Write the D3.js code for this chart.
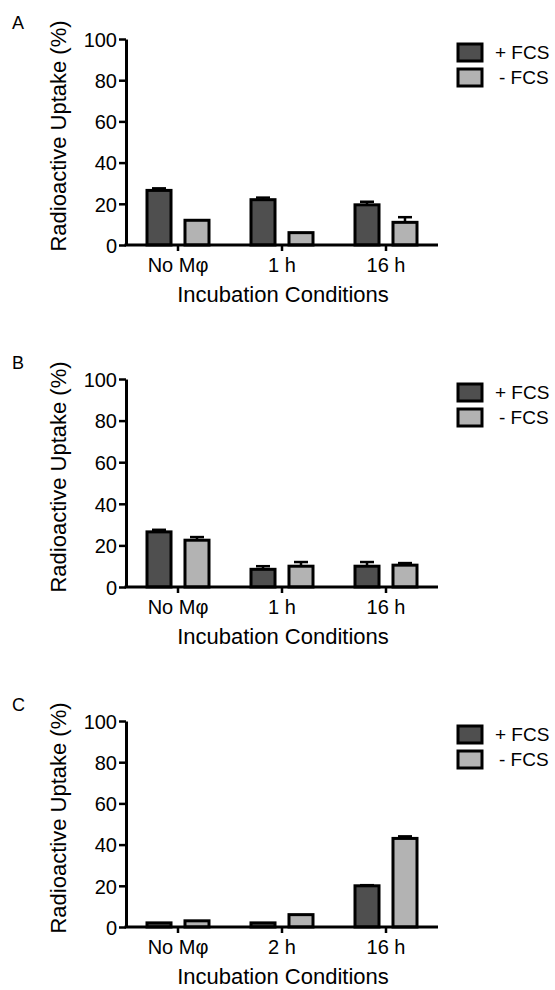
<!DOCTYPE html>
<html>
<head>
<meta charset="utf-8">
<script src="https://cdn.jsdelivr.net/npm/d3@7"></script>
<style>
  body { margin: 0; background: #fff; }
  svg text { font-family: "Liberation Sans", Arial, Helvetica, sans-serif; fill: #000; }
</style>
</head>
<body>
<div id="chart"></div>
<script>
// panel data
const panelLabels = ["A", "B", "C"];
const panelCategories = [
    ["No Mφ", "1 h", "16 h"],
    ["No Mφ", "1 h", "16 h"],
    ["No Mφ", "2 h", "16 h"]
];
const seriesNames = ["+ FCS", "- FCS"];
const plusFCS = [
    [26.5, 22, 19.5],
    [26.5, 8.5, 10],
    [2, 2, 20]
];
const plusFCSErr = [
    [1, 1, 1.5],
    [1, 1.5, 2],
    [0, 0, 0.3]
];
const minusFCS = [
    [12, 6, 11],
    [22.5, 10, 10.5],
    [3, 6, 43]
];
const minusFCSErr = [
    [0, 0, 2.5],
    [1.5, 2, 1],
    [0, 0, 1]
];
const yTicks = [0, 20, 40, 60, 80, 100];

const width = 555;
const height = 990;
const colors = ["#4f4f4f", "#b3b3b3"];

const svg = d3.select("#chart")
    .append("svg")
    .attr("width", width)
    .attr("height", height);

// layout: plot tops / bottoms per panel
const plotTops = [39, 379, 721];
const plotBottoms = [245, 587, 927];
const left = 126;
const right = 438;

panelLabels.forEach((label, p) => {
    const g = svg.append("g");
    const top = plotTops[p];
    const bottom = plotBottoms[p];

    const y = d3.scaleLinear().domain([0, 100]).range([bottom, top]);
    const x = d3.scaleBand().domain(panelCategories[p]).range([left, right]).padding(0);
    const xs = d3.scaleBand().domain(seriesNames).range([-31, 31]).paddingInner(0.368).paddingOuter(0);

    // panel letter
    g.append("text")
        .attr("x", 12)
        .attr("y", top - 10)
        .style("font-size", "18px")
        .text(label);

    const rows = [];
    panelCategories[p].forEach((c, i) => {
        rows.push({ cat: c, series: seriesNames[0], value: plusFCS[p][i], err: plusFCSErr[p][i], color: colors[0] });
        rows.push({ cat: c, series: seriesNames[1], value: minusFCS[p][i], err: minusFCSErr[p][i], color: colors[1] });
    });

    // error bars (drawn first so bar outline sits over the stem)
    const errRows = rows.filter(d => d.err > 0);
    const cx = d => x(d.cat) + x.bandwidth() / 2 + xs(d.series) + xs.bandwidth() / 2;

    g.selectAll("line.err")
        .data(errRows)
        .enter()
        .append("line")
        .attr("x1", cx)
        .attr("x2", cx)
        .attr("y1", d => y(d.value))
        .attr("y2", d => y(d.value + d.err))
        .attr("stroke", "#000")
        .attr("stroke-width", 2.5);

    g.selectAll("line.cap")
        .data(errRows)
        .enter()
        .append("line")
        .attr("x1", d => cx(d) - 7)
        .attr("x2", d => cx(d) + 7)
        .attr("y1", d => y(d.value + d.err))
        .attr("y2", d => y(d.value + d.err))
        .attr("stroke", "#000")
        .attr("stroke-width", 2.5);

    g.selectAll("rect.bar")
        .data(rows)
        .enter()
        .append("rect")
        .attr("x", d => x(d.cat) + x.bandwidth() / 2 + xs(d.series))
        .attr("width", xs.bandwidth())
        .attr("y", d => y(d.value))
        .attr("height", d => y(0) - y(d.value))
        .attr("fill", d => d.color)
        .attr("stroke", "#000")
        .attr("stroke-width", 3);

    // y axis
    const yAxis = g.append("g")
        .attr("transform", `translate(${left},0)`)
        .call(d3.axisLeft(y).tickValues(yTicks).tickSize(7).tickSizeOuter(0).tickPadding(2));
    yAxis.select(".domain").attr("stroke-width", 3).attr("stroke", "#000");
    yAxis.selectAll(".tick line").attr("stroke-width", 2.5).attr("stroke", "#000");
    yAxis.selectAll(".tick text")
        .attr("fill", "#000")
        .style("font-size", "20px")
        .attr("dy", "0.36em");

    // x axis
    const xAxis = g.append("g")
        .attr("transform", `translate(0,${bottom})`)
        .call(d3.axisBottom(x).tickSize(6).tickSizeOuter(0).tickPadding(7));
    xAxis.select(".domain").attr("stroke-width", 3).attr("stroke", "#000")
        .attr("d", `M${left - 1.5},0H${right}`);
    xAxis.selectAll(".tick line").attr("stroke-width", 2.5).attr("stroke", "#000");
    xAxis.selectAll(".tick text")
        .attr("fill", "#000")
        .style("font-size", "20px");

    // axis titles
    g.append("text")
        .attr("x", (left + right) / 2 + 1)
        .attr("y", bottom + 57)
        .attr("text-anchor", "middle")
        .style("font-size", "22px")
        .text("Incubation Conditions");

    g.append("text")
        .attr("transform", `translate(66,${(top + bottom) / 2 - 6}) rotate(-90)`)
        .attr("text-anchor", "middle")
        .style("font-size", "22px")
        .text("Radioactive Uptake (%)");

    // legend
    const legend = g.append("g").attr("transform", `translate(458,${top + 5})`);
    seriesNames.forEach((s, i) => {
        legend.append("rect")
            .attr("x", 0)
            .attr("y", i * 25)
            .attr("width", 24)
            .attr("height", 17)
            .attr("fill", colors[i])
            .attr("stroke", "#000")
            .attr("stroke-width", 3);
        legend.append("text")
            .attr("x", i === 0 ? 37 : 41)
            .attr("y", i * 25 + 15)
            .style("font-size", "19px")
            .text(s);
    });
});
</script>
</body>
</html>
